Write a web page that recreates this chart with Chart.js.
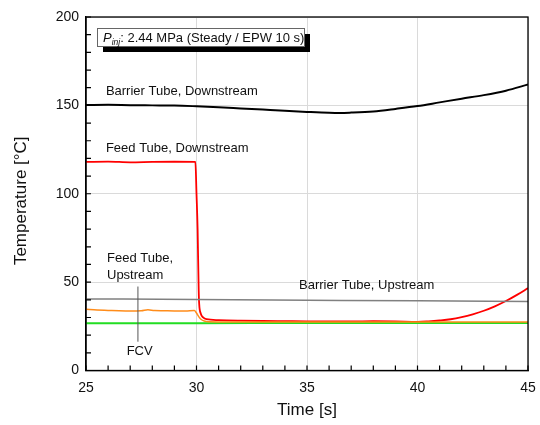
<!DOCTYPE html>
<html>
<head>
<meta charset="utf-8">
<script src="https://cdn.jsdelivr.net/npm/chart.js@4.4.1/dist/chart.umd.min.js"></script>
<style>
  html, body { margin: 0; padding: 0; background: #fff; }
  #wrap { width: 540px; height: 425px; }
</style>
</head>
<body>
<div id="wrap"><canvas id="mycanvas" width="540" height="425"></canvas></div>
<script>
// time [s] and temperature [C]
var barrierDownT = [25, 26, 27, 28, 29, 30, 31, 32, 33, 34, 35, 36, 36.5, 37, 38, 39, 40, 41, 42, 43, 44, 45];
var barrierDownV = [150.2, 150.3, 150.1, 150.0, 149.9, 149.5, 149.0, 148.3, 147.6, 146.9, 146.3, 145.8, 145.7, 145.9, 146.6, 148.0, 149.6, 151.7, 153.8, 155.8, 158.3, 161.8];

var feedDownT = [25, 26, 27, 28, 29, 29.95, 30.0, 30.05, 30.1, 30.12, 30.2, 30.3, 30.45, 31, 32, 33, 34, 35, 36, 37, 38, 39, 40, 40.5, 41, 41.5, 42, 42.5, 43, 43.5, 44, 44.5, 45];
var feedDownV = [118, 118.2, 117.8, 118, 118.1, 118, 100, 80, 45, 38, 32, 30, 29, 28.5, 28.2, 28, 27.9, 27.8, 27.8, 27.8, 27.9, 27.8, 27.5, 27.8, 28.3, 29, 30.2, 31.8, 33.8, 36.3, 39.3, 42.8, 46.6];

var feedUpT = [25, 25.5, 26, 26.5, 27, 27.5, 27.8, 28.1, 28.5, 29, 29.5, 29.9, 30.0, 30.1, 30.2, 30.35, 30.6, 31, 35, 40, 45];
var feedUpV = [34.6, 34.2, 34.0, 33.8, 33.7, 33.8, 34.4, 33.9, 33.8, 33.7, 33.7, 33.9, 32.5, 30.5, 29, 28, 27.6, 27.5, 27.4, 27.4, 27.5];

var barrierUpT = [25, 30, 35, 40, 45];
var barrierUpV = [40.5, 40.2, 39.8, 39.4, 39.1];

var fcvT = [25, 30, 35, 40, 45];
var fcvV = [26.8, 26.8, 26.9, 26.9, 26.9];

var xTicks = [25, 30, 35, 40, 45];
var yTicks = [0, 50, 100, 150, 200];

var FONT = "'Liberation Sans', Arial, sans-serif";

function pts(t, v) {
    var out = [];
    for (var i in t) {
        out.push({x: t[i], y: v[i]});
    }
    return out;
}

function series(label, t, v, color, w) {
    return {
        label: label,
        data: pts(t, v),
        borderColor: color,
        backgroundColor: color,
        borderWidth: w,
        pointRadius: 0,
        cubicInterpolationMode: 'monotone',
        showLine: true,
        fill: false
    };
}

// inward ticks, frame, labels and the condition box
var extras = {
    id: 'extras',
    afterDraw: function(chart) {
        var c = chart.ctx;
        var a = chart.chartArea;
        var xs = chart.scales.x;
        var ys = chart.scales.y;
        c.save();
        c.strokeStyle = '#000';
        c.lineWidth = 1.3;
        c.strokeRect(a.left, a.top, a.right - a.left, a.bottom - a.top);

        c.lineWidth = 1.2;
        c.beginPath();
        for (var t = 25; t <= 45; t++) {
            var px = xs.getPixelForValue(t);
            c.moveTo(px, a.bottom);
            c.lineTo(px, a.bottom - 5);
        }
        for (var v = 0; v <= 200; v += 10) {
            var py = ys.getPixelForValue(v);
            c.moveTo(a.left, py);
            c.lineTo(a.left + 5, py);
        }
        c.stroke();

        // y axis title
        c.fillStyle = '#111';
        c.save();
        c.translate(21, (a.top + a.bottom) / 2 + 7);
        c.rotate(-Math.PI / 2);
        c.font = '17px ' + FONT;
        c.textAlign = 'center';
        c.textBaseline = 'middle';
        c.fillText('Temperature [°C]', 0, 0);
        c.restore();

        // series labels
        c.font = '13px ' + FONT;
        c.textBaseline = 'alphabetic';
        c.textAlign = 'left';
        function txt(s, t, v) {
            c.fillText(s, xs.getPixelForValue(t), ys.getPixelForValue(v));
        }
        txt('Barrier Tube, Downstream', 25.9, 155.8);
        txt('Feed Tube, Downstream', 25.9, 123.4);
        txt('Feed Tube,', 25.95, 61.2);
        txt('Upstream', 25.95, 51.8);
        txt('FCV', 26.84, 8.8);
        txt('Barrier Tube, Upstream', 34.64, 46.2);

        // leader line from the Feed Tube, Upstream label to FCV
        c.strokeStyle = '#555';
        c.lineWidth = 1;
        c.beginPath();
        c.moveTo(xs.getPixelForValue(27.35), ys.getPixelForValue(47.5));
        c.lineTo(xs.getPixelForValue(27.35), ys.getPixelForValue(16.3));
        c.stroke();

        // condition box with shadow
        var bx = a.left + 11, by = a.top + 11, bw = 207, bh = 18;
        c.fillStyle = '#000';
        c.fillRect(bx + 6, by + 6, bw, bh);
        c.fillStyle = '#fff';
        c.fillRect(bx, by, bw, bh);
        c.strokeStyle = '#666';
        c.lineWidth = 1;
        c.strokeRect(bx + 0.5, by + 0.5, bw, bh);

        c.fillStyle = '#111';
        var x0 = bx + 6, base = by + 13.5;
        c.font = 'italic 13px ' + FONT;
        c.fillText('P', x0, base);
        x0 += c.measureText('P').width;
        c.font = 'italic 8.5px ' + FONT;
        c.fillText('inj', x0, base + 3);
        x0 += c.measureText('inj').width;
        c.font = '13px ' + FONT;
        c.fillText(': 2.44 MPa (Steady / EPW 10 s)', x0, base);
        c.restore();
    }
};

var ctx = document.getElementById('mycanvas');
var myChart = new Chart(ctx, {
    type: 'scatter',
    data: {
        datasets: [
            series('Barrier Tube, Upstream', barrierUpT, barrierUpV, '#808080', 1.5),
            series('Feed Tube, Upstream', feedUpT, feedUpV, '#ff8c1a', 1.5),
            series('FCV', fcvT, fcvV, '#22dd22', 2),
            series('Feed Tube, Downstream', feedDownT, feedDownV, '#ff0000', 1.8),
            series('Barrier Tube, Downstream', barrierDownT, barrierDownV, '#000000', 2)
        ]
    },
    options: {
        responsive: false,
        animation: false,
        layout: { padding: { left: 0, top: 17, right: 12, bottom: 0 } },
        plugins: { legend: { display: false }, tooltip: { enabled: false } },
        scales: {
            x: {
                type: 'linear',
                min: 25, max: 45,
                afterBuildTicks: function(s) { s.ticks = xTicks.map(function(v) { return {value: v}; }); },
                afterFit: function(s) { s.height = 54.5; s.paddingLeft = 0; s.paddingRight = 0; },
                ticks: { color: '#111', font: { family: FONT, size: 14 }, padding: 9, maxRotation: 0 },
                grid: { color: '#dadada', lineWidth: 1, drawTicks: false },
                border: { color: '#000', width: 1.3 },
                title: { display: true, text: 'Time [s]', color: '#111', font: { family: FONT, size: 17 }, padding: { top: 8 } }
            },
            y: {
                min: 0, max: 200,
                afterBuildTicks: function(s) { s.ticks = yTicks.map(function(v) { return {value: v}; }); },
                afterFit: function(s) { s.width = 86; s.paddingTop = 0; s.paddingBottom = 0; },
                ticks: { color: '#111', font: { family: FONT, size: 14 }, padding: 7 },
                grid: { color: '#dadada', lineWidth: 1, drawTicks: false },
                border: { color: '#000', width: 1.3 }
            }
        }
    },
    plugins: [extras]
});
</script>
</body>
</html>
